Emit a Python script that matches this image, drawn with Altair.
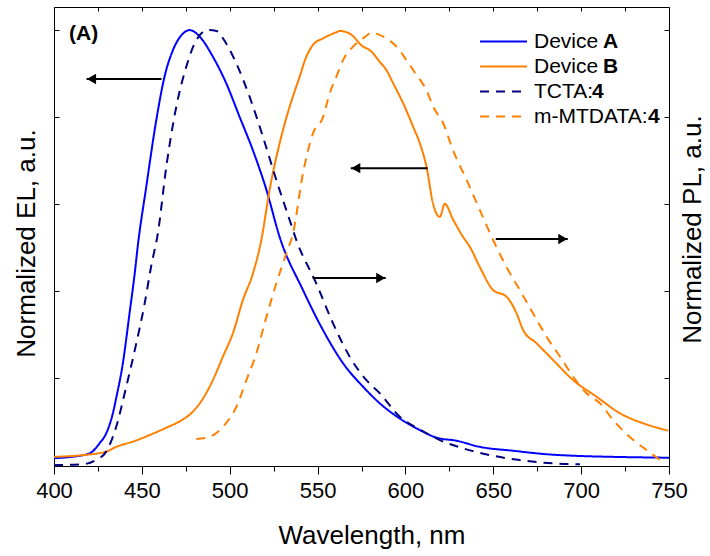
import altair as alt
import pandas as pd

FONT = "Liberation Sans"

# ---------------- data ----------------
devA_wl = [400, 410, 420.2, 425.9, 429.7, 433.5, 435.4, 439.2, 443, 445.9, 447.7, 452.5, 458.2, 462.9,
           467.7, 473.4, 477.2, 482.9, 490.4, 498, 505.7, 513.2, 520.9, 528.4, 541.7, 553.1,
           564.5, 575.9, 585.4, 596.8, 608.2, 617.7, 629.1, 642.3, 661.3, 680.3, 699.3, 718.3, 750]
devA_val = [0.017, 0.02, 0.028, 0.051, 0.074, 0.12, 0.155, 0.235, 0.35, 0.44, 0.505, 0.64, 0.793, 0.893,
            0.954, 0.992, 1.0, 0.985, 0.939, 0.878, 0.80, 0.724, 0.633, 0.525, 0.403, 0.311,
            0.235, 0.181, 0.143, 0.108, 0.0815, 0.064, 0.057, 0.043, 0.034, 0.026, 0.022, 0.020, 0.018]

tcta_wl = [400, 416.4, 424, 429.7, 435.4, 441.1, 446.8, 451.5, 455.4, 459.1, 463.9, 469.6, 475.3,
           481, 487.6, 492.4, 498, 503.8, 511.3, 518.9, 526.5, 534.1, 537.9, 549.3, 558.8, 568.3,
           577.8, 585.4, 596.8, 608.2, 619.6, 632.8, 648, 665.1, 684.1, 699.3]
tcta_val = [0.001, 0.003, 0.013, 0.032, 0.089, 0.181, 0.28, 0.37, 0.46, 0.533, 0.686, 0.824, 0.916,
            0.977, 1.0, 0.998, 0.969, 0.923, 0.847, 0.755, 0.656, 0.564, 0.518, 0.418, 0.3265, 0.25,
            0.196, 0.166, 0.112, 0.083, 0.0585, 0.0395, 0.024, 0.0126, 0.005, 0.003]

devB_wl = [400, 416.4, 429.7, 435.4, 444.9, 454.4, 463.9, 473.4, 479.1, 484.8, 490.4, 496.1, 501.8,
           507.5, 513.2, 518, 522.7, 528.4, 534.1, 539.8, 543.6, 547.4, 553.1, 560.7, 562.6, 568.3,
           575.9, 579.7, 585.4, 589.2, 593, 598.7, 604.4, 608.2, 612, 615.8, 619.6, 622.4, 627.1,
           632.8, 636.7, 642.3, 649.9, 657.5, 663.3, 667, 674.6, 684.1, 695.5, 708.8, 722.1, 735.4, 749.6]
devB_val = [0.02, 0.024, 0.032, 0.043, 0.055, 0.07, 0.087, 0.106, 0.124, 0.154, 0.196, 0.25, 0.3035,
            0.38, 0.441, 0.518, 0.633, 0.74, 0.824, 0.893, 0.939, 0.966, 0.981, 0.995, 0.998, 0.992,
            0.962, 0.954, 0.927, 0.908, 0.878, 0.832, 0.778, 0.74, 0.686, 0.60, 0.571, 0.601, 0.565,
            0.525, 0.502, 0.456, 0.403, 0.388, 0.349, 0.311, 0.281, 0.242, 0.196, 0.158, 0.12, 0.097, 0.080]

mmt_wl = [481, 488.6, 496.1, 503.8, 509.5, 515.2, 520.9, 526.5, 532.2, 536, 541.7, 547.4, 553.1,
          556.9, 560.7, 564.5, 570.2, 575.9, 581.6, 583.5, 589.2, 594.9, 600.6, 606.3, 612, 615.8,
          621.5, 627.1, 634.8, 642.3, 649.9, 657.5, 665.1, 672.7, 680.3, 688, 695.5, 703.1, 710.7,
          718.3, 729.7, 737.3, 744.9]
mmt_val = [0.061, 0.066, 0.089, 0.135, 0.196, 0.258, 0.342, 0.418, 0.487, 0.533, 0.671, 0.763, 0.80,
           0.855, 0.893, 0.931, 0.962, 0.981, 0.995, 0.992, 0.981, 0.962, 0.931, 0.897, 0.862, 0.824,
           0.786, 0.724, 0.656, 0.587, 0.518, 0.456, 0.403, 0.349, 0.296, 0.25, 0.204, 0.166, 0.143,
           0.104, 0.0585, 0.0356, 0.0126]

series_names = ["Device A", "Device B", "TCTA:4", "m-MTDATA:4"]
series_colors = ["#0000FF", "#FF8000", "#000080", "#FF8000"]
series_dash = [[1, 0], [1, 0], [9, 7], [9, 7]]

# arrows (wavelength from -> to, normalized level)
arrow_from = [461.2, 612.7, 547.2, 651.4]
arrow_to = [418.5, 568.9, 588.8, 692.4]
arrow_level = [0.8875, 0.683, 0.4305, 0.520]

x_major = [400, 450, 500, 550, 600, 650, 700, 750]
x_minor = [425, 475, 525, 575, 625, 675, 725]
x_top = [400, 425, 450, 475, 500, 525, 550, 575, 600, 625, 650, 675, 700, 725, 750]
y_ticks = [0, 0.2, 0.4, 0.6, 0.8, 1.0]

X_DOM = [400, 750]
Y_DOM = [-0.001, 1.053]
W, H = 615, 459

# ---------------- tables ----------------
rows = []
for name, wls, vals in [("Device A", devA_wl, devA_val), ("Device B", devB_wl, devB_val),
                        ("TCTA:4", tcta_wl, tcta_val), ("m-MTDATA:4", mmt_wl, mmt_val)]:
    for w, v in zip(wls, vals):
        rows.append({"series": name, "wl": w, "val": v})
df = pd.DataFrame(rows)

arrows = pd.DataFrame({"x1": arrow_from, "x2": arrow_to, "y": arrow_level})
arrows["dir"] = ["left" if b < a else "right" for a, b in zip(arrow_from, arrow_to)]

xs = alt.Scale(domain=X_DOM, nice=False, zero=False)
ys = alt.Scale(domain=Y_DOM, nice=False, zero=False)

leg = alt.Legend(
    title=None, orient="none", legendX=439, legendY=24,
    symbolType="M-4.7,0L4.7,0", symbolSize=100, symbolStrokeWidth=2,
    labelFontSize=21, labelFont=FONT, labelColor="black", labelOffset=20,
    rowPadding=3, padding=0, labelExpr="slice(datum.label, 0, -1)",
)

lines = alt.Chart(df).mark_line(strokeWidth=2, interpolate="monotone").encode(
    x=alt.X("wl:Q", scale=xs, axis=alt.Axis(
        orient="bottom", values=x_major, tickSize=8, domain=False, labelFontSize=22,
        labelPadding=6, labelFlush=False, title="Wavelength, nm", titleFontSize=26,
        titleX=317.5, titleY=77, titleBaseline="alphabetic", titleAlign="center")),
    y=alt.Y("val:Q", scale=ys, axis=alt.Axis(
        orient="left", labels=False, ticks=False, domain=False, title="Normalized EL, a.u.",
        titleFontSize=26, titleAngle=270, titleX=-20, titleY=236, titleBaseline="alphabetic",
        titleAlign="center")),
    color=alt.Color("series:N", scale=alt.Scale(domain=series_names, range=series_colors), legend=leg),
    strokeDash=alt.StrokeDash("series:N", scale=alt.Scale(domain=series_names, range=series_dash), legend=leg),
)


def axis_layer(xaxis, yaxis):
    return alt.Chart(df).mark_point(opacity=0).encode(
        x=alt.X("wl:Q", scale=xs, axis=xaxis),
        y=alt.Y("val:Q", scale=ys, axis=yaxis),
    )


ax2 = axis_layer(
    alt.Axis(orient="bottom", values=x_minor, tickSize=5, labels=False, domain=False, title=None),
    alt.Axis(orient="right", offset=-W, values=y_ticks, tickSize=5, labels=False, domain=False, title=None),
)
ax3 = axis_layer(
    alt.Axis(orient="bottom", offset=-H, values=x_top, tickSize=4, labels=False, domain=False, title=None),
    alt.Axis(orient="left", offset=-W, values=y_ticks, tickSize=5, labels=False, domain=False, title=None),
)
ax4 = axis_layer(
    alt.Axis(orient="top", values=x_top, ticks=False, labels=False, domain=False, title=None),
    alt.Axis(orient="right", labels=False, ticks=False, domain=False, title="Normalized PL, a.u.",
             titleFontSize=26, titleAngle=270, titleX=31, titleY=222, titleBaseline="alphabetic",
             titleAlign="center"),
)

rules = alt.Chart(arrows).mark_rule(color="black", strokeWidth=2).encode(
    x=alt.X("x1:Q", scale=xs, axis=None), x2="x2:Q", y=alt.Y("y:Q", scale=ys, axis=None))
heads_l = alt.Chart(arrows).transform_filter("datum.dir == 'left'").mark_point(
    shape="triangle-left", filled=True, color="black", size=110, opacity=1, xOffset=5).encode(
    x=alt.X("x2:Q", scale=xs, axis=None), y=alt.Y("y:Q", scale=ys, axis=None))
heads_r = alt.Chart(arrows).transform_filter("datum.dir == 'right'").mark_point(
    shape="triangle-right", filled=True, color="black", size=110, opacity=1, xOffset=-5).encode(
    x=alt.X("x2:Q", scale=xs, axis=None), y=alt.Y("y:Q", scale=ys, axis=None))


def label(txt, x, y, size=21):
    return alt.Chart(alt.Data(values=[{}])).mark_text(
        text=txt, font=FONT, fontSize=size, fontWeight="bold", align="left", baseline="middle",
        color="black").encode(x=alt.value(x), y=alt.value(y))


panel = label("(A)", 15, 27)
bA = label("A", 549, 35)
bB = label("B", 549, 60)
b4a = label("4", 538, 85)
b4b = label("4", 594, 110)

chart = alt.layer(
    ax2, ax3, ax4, lines, rules, heads_l, heads_r, panel, bA, bB, b4a, b4b
).resolve_axis(x="independent", y="independent").properties(
    width=W, height=H,
    autosize=alt.AutoSizeParams(type="none"),
    padding={"left": 54, "top": 7, "right": 41, "bottom": 90},
).configure_view(stroke="black", strokeWidth=1).configure_axis(
    grid=False, labelFont=FONT, titleFont=FONT, labelColor="black", titleColor="black",
    tickColor="black", tickWidth=1, titleFontWeight="normal",
).configure_legend(labelFont=FONT, labelColor="black")

chart.save("out.html", embed_options={"renderer": "svg", "actions": False})
